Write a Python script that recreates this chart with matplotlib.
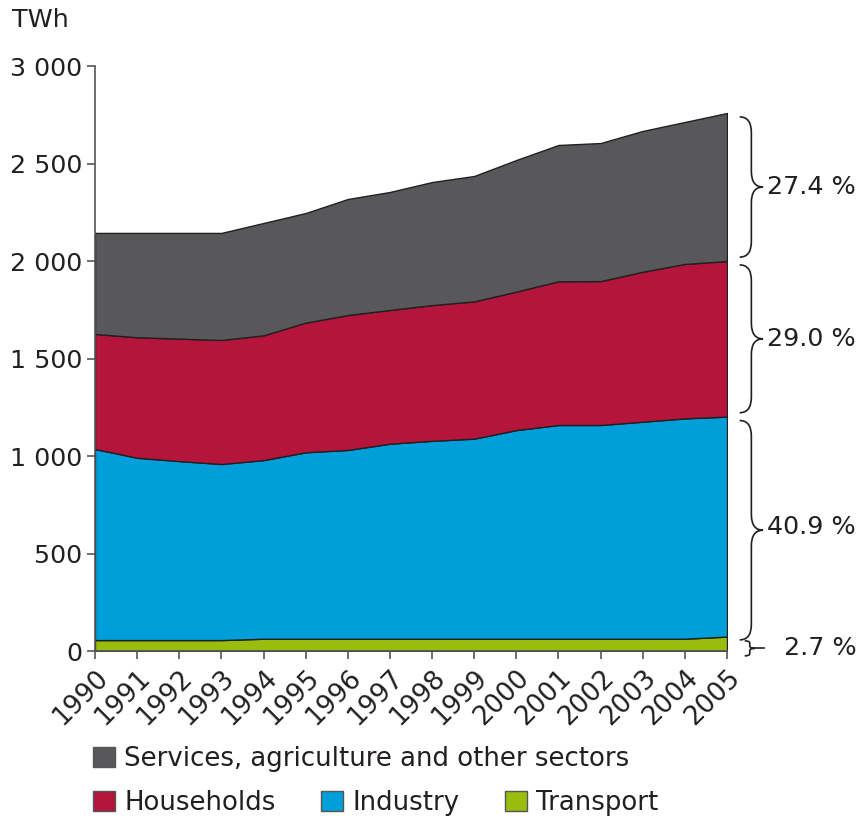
import numpy as np
import matplotlib
matplotlib.use("Agg")
import matplotlib.pyplot as plt
from matplotlib.patches import Patch, PathPatch
from matplotlib.path import Path
from matplotlib import ticker, transforms

years = list(range(1990, 2006))
transport = [56, 56, 56, 56, 63, 63, 63, 63, 63, 63, 63, 63, 63, 63, 63, 74]
industry = [980, 935, 918, 903, 916, 956, 968, 1000, 1015, 1026, 1070, 1096, 1096, 1113, 1130, 1128]
households = [590, 618, 628, 636, 640, 665, 692, 686, 696, 704, 710, 737, 738, 769, 792, 798]
services = [518, 535, 542, 549, 576, 562, 595, 605, 631, 643, 675, 699, 708, 722, 728, 759]
shares = ["2.7 %", "40.9 %", "29.0 %", "27.4 %"]  # transport, industry, households, services

labels = ["Transport", "Industry", "Households", "Services, agriculture and other sectors"]
colors = ["#99bd0e", "#009fda", "#b5153b", "#58585a"]
edge = "#231f20"
fs = 18.3

plt.rcParams['font.family'] = 'DejaVu Sans'
fig = plt.figure(figsize=(8.61, 8.16), dpi=100)
ax = fig.add_axes([0.1103, 0.2022, 0.7341, 0.7169])

series = [transport, industry, households, services]
ax.stackplot(years, series, colors=colors, edgecolor=edge, linewidth=1.0)

ax.set_xlim(1990, 2005)
ax.set_ylim(0, 3000)
ax.set_xticks(years)
ax.set_xticklabels([str(y) for y in years], rotation=45, ha='right', rotation_mode='anchor')
ax.yaxis.set_major_locator(ticker.MultipleLocator(500))
ax.yaxis.set_major_formatter(ticker.FuncFormatter(lambda v, p: f"{int(v):,}".replace(",", " ")))
for s in ['top', 'right']:
    ax.spines[s].set_visible(False)
for s in ['left', 'bottom']:
    ax.spines[s].set_color('#555555')
    ax.spines[s].set_linewidth(1.2)
ax.tick_params(axis='both', direction='out', length=6, width=1.2, color='#555555',
               labelsize=fs, labelcolor='#231f20', pad=3)
ax.tick_params(axis='x', labelsize=18.8, pad=4)
fig.text(0.014, 0.975, "TWh", fontsize=fs, color='#231f20', va='center')

# braces with the 2005 shares on the right
trans = transforms.blended_transform_factory(ax.transAxes, ax.transData)
cum = np.cumsum([s[-1] for s in series])
bounds = [0] + list(cum)


def brace(y0, y1, x0, w, r):
    ym = (y0 + y1) / 2
    xm = x0 + w / 2
    verts = [(x0, y1), (xm, y1), (xm, y1 - r), (xm, ym + r), (xm, ym), (x0 + w, ym),
             (xm, ym), (xm, ym - r), (xm, y0 + r), (xm, y0), (x0, y0)]
    codes = [Path.MOVETO, Path.CURVE3, Path.CURVE3, Path.LINETO, Path.CURVE3, Path.CURVE3,
             Path.CURVE3, Path.CURVE3, Path.LINETO, Path.CURVE3, Path.CURVE3]
    return PathPatch(Path(verts, codes), transform=trans, fill=False, edgecolor=edge,
                     linewidth=1.2, clip_on=False)


for i in range(1, 4):
    y0 = bounds[i] + (20 if i > 1 else -17)
    y1 = bounds[i + 1] - 20
    ax.add_patch(brace(y0, y1, 1.020, 0.037, 80))
    ax.text(1.064, (bounds[i] + bounds[i + 1]) / 2, shares[i], transform=trans,
            fontsize=fs, va='center', ha='left', color='#231f20', clip_on=False)

# small one for transport
ax.add_patch(brace(-25, 52, 1.028, 0.016, 12))
ax.plot([1.044, 1.058], [13, 13], transform=trans, color=edge, lw=1.2, clip_on=False)
ax.text(1.090, 13, shares[0], transform=trans, fontsize=fs, va='center', ha='left',
        color='#231f20', clip_on=False)

h = [Patch(facecolor=c, edgecolor='#555555', linewidth=1.0) for c in colors]
common = dict(frameon=False, fontsize=18.7, handlelength=0.84, handleheight=0.84,
              handletextpad=0.36, borderpad=0, borderaxespad=0)
leg1 = fig.legend([h[3]], [labels[3]], loc='center left',
                  bbox_to_anchor=(0.108, 0.0699), **common)
leg2 = fig.legend([h[2], h[1], h[0]], [labels[2], labels[1], labels[0]], loc='center left',
                  bbox_to_anchor=(0.108, 0.0159), ncol=3, columnspacing=1.75, **common)
for t in leg1.get_texts() + leg2.get_texts():
    t.set_color('#231f20')

fig.savefig("out.png", dpi=100)
